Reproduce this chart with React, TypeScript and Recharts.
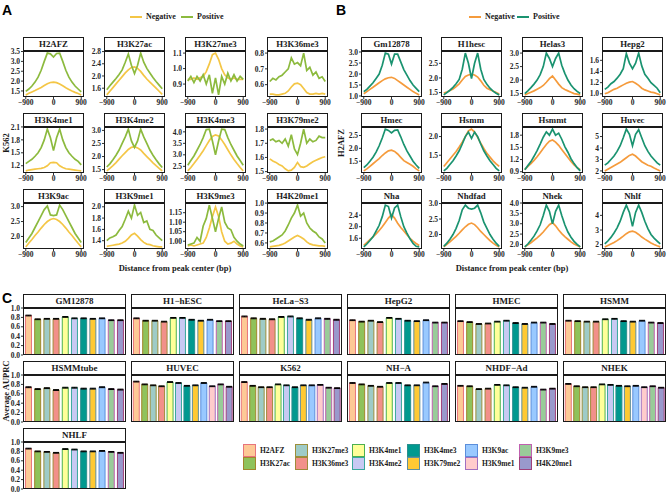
import React from 'react';
import { LineChart, Line, XAxis, YAxis, BarChart, Bar, Cell, ErrorBar } from 'recharts';

const SERIF = '"Liberation Serif", "DejaVu Serif", serif';

// ---------- Panel A / B : profiles around peak centre ----------
const distance = [-900, -800, -700, -600, -500, -400, -300, -200, -100, 0, 100, 200, 300, 400, 500, 600, 700, 800, 900];

// A: K562, one histone mark per facet
const h2afzNeg = [1.3, 1.38, 1.45, 1.52, 1.6, 1.68, 1.78, 1.87, 1.93, 1.95, 1.92, 1.85, 1.76, 1.66, 1.58, 1.5, 1.43, 1.37, 1.3];
const h2afzPos = [1.48, 1.6, 1.75, 1.95, 2.2, 2.55, 3.0, 3.42, 3.38, 3.22, 3.4, 3.42, 3.0, 2.55, 2.2, 1.95, 1.75, 1.6, 1.45];
const h3k27acNeg = [1.38, 1.5, 1.62, 1.74, 1.86, 1.98, 2.1, 2.2, 2.28, 2.3, 2.25, 2.15, 2.02, 1.9, 1.8, 1.7, 1.6, 1.5, 1.4];
const h3k27acPos = [1.55, 1.68, 1.8, 1.92, 2.05, 2.2, 2.45, 2.72, 2.35, 2.08, 2.35, 2.75, 2.45, 2.25, 2.1, 1.95, 1.82, 1.7, 1.58];
const h3k27me3Neg = [0.93, 0.93, 0.94, 0.93, 0.94, 0.95, 0.98, 1.03, 1.09, 1.1, 1.06, 1.0, 0.96, 0.94, 0.93, 0.94, 0.93, 0.93, 0.93];
const h3k27me3Pos = [0.92, 0.95, 0.91, 0.95, 0.92, 0.96, 0.9, 0.96, 0.84, 0.94, 0.83, 0.95, 0.9, 0.97, 0.92, 0.96, 0.92, 0.95, 0.93];
const h3k36me3Neg = [0.54, 0.54, 0.535, 0.535, 0.54, 0.545, 0.56, 0.585, 0.605, 0.61, 0.6, 0.575, 0.55, 0.54, 0.54, 0.545, 0.54, 0.545, 0.54];
const h3k36me3Pos = [0.62, 0.64, 0.63, 0.65, 0.66, 0.68, 0.7, 0.77, 0.73, 0.74, 0.72, 0.8, 0.69, 0.71, 0.66, 0.68, 0.64, 0.65, 0.62];
const h3k4me1Neg = [1.08, 1.1, 1.11, 1.12, 1.13, 1.14, 1.16, 1.2, 1.27, 1.28, 1.27, 1.2, 1.16, 1.13, 1.12, 1.11, 1.1, 1.09, 1.08];
const h3k4me1Pos = [1.25, 1.3, 1.35, 1.42, 1.5, 1.62, 1.8, 2.05, 1.85, 1.55, 1.85, 2.05, 1.8, 1.62, 1.5, 1.42, 1.35, 1.3, 1.22];
const h3k4me2Neg = [1.45, 1.55, 1.65, 1.77, 1.9, 2.03, 2.15, 2.27, 2.35, 2.38, 2.33, 2.25, 2.12, 2.0, 1.88, 1.76, 1.65, 1.55, 1.45];
const h3k4me2Pos = [1.6, 1.72, 1.88, 2.05, 2.25, 2.5, 2.75, 3.05, 2.6, 2.35, 2.6, 3.05, 2.75, 2.5, 2.25, 2.05, 1.88, 1.72, 1.58];
const h3k4me3Neg = [2.3, 2.45, 2.62, 2.8, 2.98, 3.18, 3.4, 3.62, 3.8, 3.87, 3.82, 3.65, 3.45, 3.22, 3.0, 2.8, 2.62, 2.45, 2.3];
const h3k4me3Pos = [2.55, 2.75, 2.95, 3.2, 3.45, 3.75, 4.1, 4.12, 3.6, 3.0, 3.6, 4.12, 4.1, 3.75, 3.45, 3.2, 2.95, 2.75, 2.55];
const h3k79me2Neg = [1.59, 1.575, 1.565, 1.55, 1.54, 1.52, 1.505, 1.51, 1.53, 1.565, 1.535, 1.53, 1.54, 1.555, 1.57, 1.58, 1.59, 1.6, 1.605];
const h3k79me2Pos = [1.72, 1.73, 1.71, 1.72, 1.7, 1.73, 1.68, 1.76, 1.66, 1.62, 1.7, 1.8, 1.7, 1.73, 1.71, 1.72, 1.75, 1.74, 1.74];
const h3k9acNeg = [1.65, 1.78, 1.9, 2.03, 2.15, 2.28, 2.4, 2.5, 2.57, 2.6, 2.57, 2.5, 2.4, 2.28, 2.15, 2.03, 1.9, 1.77, 1.65];
const h3k9acPos = [1.8, 1.95, 2.1, 2.3, 2.5, 2.7, 2.9, 3.02, 2.72, 2.7, 2.72, 3.05, 2.9, 2.7, 2.5, 2.3, 2.1, 1.95, 1.8];
const h3k9me1Neg = [1.3, 1.31, 1.32, 1.33, 1.34, 1.36, 1.39, 1.44, 1.5, 1.53, 1.48, 1.42, 1.37, 1.34, 1.33, 1.31, 1.3, 1.29, 1.29];
const h3k9me1Pos = [1.4, 1.45, 1.47, 1.5, 1.58, 1.65, 1.78, 1.92, 1.8, 2.03, 1.85, 1.9, 1.72, 1.75, 1.6, 1.58, 1.5, 1.45, 1.4];
const h3k9me3Neg = [0.975, 0.98, 0.975, 0.98, 0.985, 0.99, 1.02, 1.07, 1.13, 1.18, 1.13, 1.05, 1.0, 0.985, 0.99, 1.0, 0.985, 0.975, 0.97];
const h3k9me3Pos = [0.98, 0.985, 0.99, 1.02, 1.0, 1.08, 1.12, 1.19, 1.12, 1.05, 1.12, 1.18, 1.1, 1.07, 1.06, 1.02, 1.0, 0.985, 0.975];
const h4k20me1Neg = [0.56, 0.565, 0.57, 0.575, 0.585, 0.6, 0.62, 0.64, 0.66, 0.675, 0.66, 0.64, 0.61, 0.59, 0.58, 0.575, 0.57, 0.57, 0.565];
const h4k20me1Pos = [0.61, 0.62, 0.64, 0.66, 0.68, 0.72, 0.78, 0.85, 0.9, 0.98, 0.87, 0.9, 0.8, 0.75, 0.72, 0.7, 0.66, 0.64, 0.6];

// B: H2AFZ, one cell line per facet
const gm12878Neg = [1.1, 1.2, 1.3, 1.4, 1.5, 1.6, 1.7, 1.78, 1.83, 1.85, 1.8, 1.7, 1.6, 1.5, 1.4, 1.3, 1.2, 1.12, 1.05];
const gm12878Pos = [1.2, 1.3, 1.45, 1.6, 1.8, 2.0, 2.4, 2.95, 2.9, 2.45, 2.9, 2.9, 2.55, 2.2, 1.95, 1.7, 1.5, 1.35, 1.2];
const h1hescNeg = [1.48, 1.52, 1.57, 1.62, 1.7, 1.8, 1.93, 2.05, 2.1, 2.12, 2.1, 2.03, 1.9, 1.75, 1.65, 1.6, 1.55, 1.5, 1.45];
const h1hescPos = [1.42, 1.5, 1.58, 1.68, 1.8, 1.95, 2.3, 2.85, 2.5, 1.98, 2.5, 2.85, 2.3, 1.95, 1.78, 1.65, 1.55, 1.48, 1.42];
const helas3Neg = [1.45, 1.5, 1.55, 1.6, 1.66, 1.72, 1.8, 1.92, 2.05, 2.15, 2.0, 1.85, 1.72, 1.65, 1.6, 1.55, 1.5, 1.48, 1.45];
const helas3Pos = [1.5, 1.6, 1.72, 1.85, 2.0, 2.2, 2.5, 3.0, 2.8, 2.5, 2.8, 3.0, 2.55, 2.25, 2.0, 1.82, 1.68, 1.58, 1.5];
const hepg2Neg = [1.0, 1.02, 1.05, 1.08, 1.1, 1.13, 1.16, 1.19, 1.21, 1.22, 1.19, 1.15, 1.1, 1.07, 1.05, 1.03, 1.02, 1.0, 0.98];
const hepg2Pos = [1.08, 1.12, 1.18, 1.22, 1.28, 1.35, 1.45, 1.72, 1.55, 1.45, 1.55, 1.73, 1.5, 1.35, 1.28, 1.2, 1.15, 1.1, 1.02];
const hmecNeg = [1.12, 1.2, 1.3, 1.4, 1.5, 1.6, 1.72, 1.82, 1.9, 1.93, 1.88, 1.78, 1.65, 1.52, 1.45, 1.38, 1.3, 1.2, 1.12];
const hmecPos = [1.25, 1.35, 1.5, 1.65, 1.85, 2.1, 2.4, 2.75, 2.7, 2.6, 2.7, 2.72, 2.45, 2.15, 1.9, 1.7, 1.5, 1.35, 1.22];
const hsmmNeg = [1.2, 1.3, 1.4, 1.5, 1.6, 1.72, 1.85, 2.0, 2.15, 2.2, 2.12, 1.98, 1.82, 1.68, 1.55, 1.45, 1.35, 1.27, 1.2];
const hsmmPos = [1.08, 1.15, 1.25, 1.35, 1.48, 1.62, 1.8, 2.0, 2.12, 1.95, 2.12, 2.0, 1.8, 1.62, 1.48, 1.35, 1.25, 1.15, 1.08];
const hsmmtNeg = [0.95, 1.03, 1.1, 1.18, 1.27, 1.37, 1.47, 1.57, 1.65, 1.68, 1.63, 1.55, 1.45, 1.35, 1.25, 1.15, 1.07, 1.0, 0.95];
const hsmmtPos = [0.95, 1.05, 1.15, 1.28, 1.42, 1.58, 1.75, 1.88, 1.8, 1.95, 1.8, 1.85, 1.7, 1.52, 1.38, 1.22, 1.1, 1.0, 0.92];
const huvecNeg = [2.0, 2.15, 2.3, 2.45, 2.6, 2.75, 2.95, 3.15, 3.35, 3.45, 3.3, 3.05, 2.8, 2.65, 2.5, 2.4, 2.25, 2.12, 2.0];
const huvecPos = [2.5, 2.7, 3.0, 3.3, 3.7, 4.2, 4.9, 5.65, 5.2, 4.2, 5.2, 5.6, 4.9, 4.2, 3.7, 3.3, 3.0, 2.7, 2.5];
const nhaNeg = [1.35, 1.45, 1.55, 1.65, 1.75, 1.87, 2.0, 2.15, 2.3, 2.42, 2.3, 2.12, 1.97, 1.85, 1.72, 1.6, 1.5, 1.42, 1.35];
const nhaPos = [1.3, 1.4, 1.52, 1.65, 1.85, 2.05, 2.35, 2.75, 2.7, 2.3, 2.65, 2.75, 2.35, 2.0, 1.78, 1.58, 1.42, 1.32, 1.3];
const nhdfadNeg = [1.6, 1.68, 1.76, 1.85, 1.94, 2.04, 2.15, 2.25, 2.33, 2.37, 2.32, 2.22, 2.1, 2.0, 1.9, 1.8, 1.72, 1.65, 1.6];
const nhdfadPos = [1.62, 1.72, 1.85, 2.0, 2.2, 2.45, 2.8, 2.95, 2.85, 2.82, 2.85, 2.95, 2.7, 2.4, 2.2, 2.0, 1.85, 1.72, 1.62];
const nhekNeg = [1.88, 1.98, 2.08, 2.2, 2.32, 2.45, 2.6, 2.78, 2.95, 3.05, 2.9, 2.7, 2.52, 2.38, 2.25, 2.12, 2.02, 1.95, 1.88];
const nhekPos = [1.88, 2.02, 2.2, 2.4, 2.65, 2.95, 3.4, 3.9, 3.6, 3.0, 3.6, 3.9, 3.4, 2.95, 2.6, 2.35, 2.15, 2.0, 1.88];
const nhlfNeg = [1.85, 1.95, 2.05, 2.15, 2.28, 2.42, 2.58, 2.75, 2.88, 2.92, 2.85, 2.7, 2.52, 2.38, 2.25, 2.12, 2.02, 1.93, 1.85];
const nhlfPos = [2.05, 2.25, 2.5, 2.8, 3.15, 3.6, 4.2, 4.7, 4.2, 3.25, 4.2, 4.7, 4.2, 3.6, 3.1, 2.7, 2.45, 2.25, 2.05];

type Profile = { title: string; neg: number[]; pos: number[]; ticks: number[]; dec: number };

const panelA: Profile[] = [
  { title: 'H2AFZ', neg: h2afzNeg, pos: h2afzPos, ticks: [1.5, 2.0, 2.5, 3.0, 3.5], dec: 1 },
  { title: 'H3K27ac', neg: h3k27acNeg, pos: h3k27acPos, ticks: [1.6, 2.0, 2.4, 2.8], dec: 1 },
  { title: 'H3K27me3', neg: h3k27me3Neg, pos: h3k27me3Pos, ticks: [0.9, 1.0, 1.1], dec: 1 },
  { title: 'H3K36me3', neg: h3k36me3Neg, pos: h3k36me3Pos, ticks: [0.6, 0.7, 0.8], dec: 1 },
  { title: 'H3K4me1', neg: h3k4me1Neg, pos: h3k4me1Pos, ticks: [1.2, 1.5, 1.8, 2.1], dec: 1 },
  { title: 'H3K4me2', neg: h3k4me2Neg, pos: h3k4me2Pos, ticks: [1.5, 2.0, 2.5, 3.0], dec: 1 },
  { title: 'H3K4me3', neg: h3k4me3Neg, pos: h3k4me3Pos, ticks: [2.5, 3.0, 3.5, 4.0], dec: 1 },
  { title: 'H3K79me2', neg: h3k79me2Neg, pos: h3k79me2Pos, ticks: [1.5, 1.6, 1.7, 1.8], dec: 1 },
  { title: 'H3K9ac', neg: h3k9acNeg, pos: h3k9acPos, ticks: [2.0, 2.5, 3.0], dec: 1 },
  { title: 'H3K9me1', neg: h3k9me1Neg, pos: h3k9me1Pos, ticks: [1.4, 1.6, 1.8, 2.0], dec: 1 },
  { title: 'H3K9me3', neg: h3k9me3Neg, pos: h3k9me3Pos, ticks: [1.0, 1.05, 1.1, 1.15], dec: 2 },
  { title: 'H4K20me1', neg: h4k20me1Neg, pos: h4k20me1Pos, ticks: [0.6, 0.7, 0.8, 0.9, 1.0], dec: 1 },
];

const panelB: Profile[] = [
  { title: 'Gm12878', neg: gm12878Neg, pos: gm12878Pos, ticks: [1.0, 1.5, 2.0, 2.5, 3.0], dec: 1 },
  { title: 'H1hesc', neg: h1hescNeg, pos: h1hescPos, ticks: [1.5, 2.0, 2.5], dec: 1 },
  { title: 'Helas3', neg: helas3Neg, pos: helas3Pos, ticks: [1.5, 2.0, 2.5, 3.0], dec: 1 },
  { title: 'Hepg2', neg: hepg2Neg, pos: hepg2Pos, ticks: [1.0, 1.2, 1.4, 1.6], dec: 1 },
  { title: 'Hmec', neg: hmecNeg, pos: hmecPos, ticks: [1.5, 2.0, 2.5], dec: 1 },
  { title: 'Hsmm', neg: hsmmNeg, pos: hsmmPos, ticks: [1.5, 2.0], dec: 1 },
  { title: 'Hsmmt', neg: hsmmtNeg, pos: hsmmtPos, ticks: [0.9, 1.2, 1.5, 1.8], dec: 1 },
  { title: 'Huvec', neg: huvecNeg, pos: huvecPos, ticks: [2, 3, 4, 5], dec: 0 },
  { title: 'Nha', neg: nhaNeg, pos: nhaPos, ticks: [1.6, 2.0, 2.4], dec: 1 },
  { title: 'Nhdfad', neg: nhdfadNeg, pos: nhdfadPos, ticks: [2.0, 2.5, 3.0], dec: 1 },
  { title: 'Nhek', neg: nhekNeg, pos: nhekPos, ticks: [2.0, 2.5, 3.0, 3.5, 4.0], dec: 1 },
  { title: 'Nhlf', neg: nhlfNeg, pos: nhlfPos, ticks: [2, 3, 4], dec: 0 },
];

// ---------- Panel C : average AUPRC per cell line ----------
const marks = ['H2AFZ', 'H3K27ac', 'H3K27me3', 'H3K36me3', 'H3K4me1', 'H3K4me2', 'H3K4me3', 'H3K79me2', 'H3K9ac', 'H3K9me1', 'H3K9me3', 'H4K20me1'];
const markFill = ['#FDC996', '#8FC25B', '#9ECBC7', '#F2908A', '#FFFF99', '#C8C9F3', '#00998F', '#FFC933', '#99C9FF', '#FFCCCC', '#99CC99', '#9999CC'];
const markStroke = ['#E8747C', '#A3862B', '#9C8E3A', '#A08A3A', '#4CB050', '#3AA89C', '#2A8F8F', '#5E8FA0', '#5B8EDB', '#A070C0', '#C060B0', '#A0407A'];

const cellLines = ['GM12878', 'H1\u2212hESC', 'HeLa\u2212S3', 'HepG2', 'HMEC', 'HSMM', 'HSMMtube', 'HUVEC', 'K562', 'NH\u2212A', 'NHDF\u2212Ad', 'NHEK', 'NHLF'];
const auprc: (number | null)[][] = [
  [0.84, 0.76, 0.77, 0.77, 0.81, 0.78, 0.78, 0.77, 0.78, null, 0.74, 0.74],
  [0.78, 0.73, 0.73, 0.71, 0.79, 0.79, 0.75, 0.73, 0.75, null, 0.72, 0.72],
  [0.82, 0.78, 0.77, 0.76, 0.81, 0.82, 0.78, 0.75, 0.78, null, 0.77, 0.75],
  [0.74, 0.71, 0.73, 0.7, 0.79, 0.77, 0.73, 0.72, 0.74, null, 0.69, 0.69],
  [0.72, 0.7, 0.66, 0.67, 0.71, 0.73, 0.68, 0.66, 0.69, null, 0.69, 0.66],
  [0.73, 0.72, 0.71, 0.71, 0.76, 0.77, 0.72, 0.71, 0.73, null, 0.69, 0.68],
  [0.74, 0.7, 0.72, 0.68, 0.73, 0.73, 0.71, 0.71, 0.74, null, 0.7, 0.69],
  [0.86, 0.8, 0.78, 0.76, 0.85, 0.83, 0.77, 0.78, 0.83, 0.76, 0.8, 0.75],
  [0.85, 0.77, 0.74, 0.74, 0.8, 0.78, 0.74, 0.78, 0.78, 0.79, 0.73, 0.72],
  [0.83, 0.8, 0.77, 0.75, 0.83, 0.83, 0.78, 0.78, 0.84, null, 0.76, 0.81],
  [0.77, 0.76, 0.7, 0.71, 0.79, 0.78, 0.74, 0.73, 0.75, null, 0.69, 0.71],
  [0.81, 0.76, 0.74, 0.74, 0.8, 0.79, 0.77, 0.76, 0.77, 0.74, 0.76, 0.73],
  [0.86, 0.8, 0.79, 0.77, 0.85, 0.84, 0.8, 0.8, 0.81, null, 0.79, 0.77],
];
const auprcErr = [0.008, 0.008, 0.009, 0.008, 0.008, 0.008, 0.009, 0.008, 0.008, 0.008, 0.008, 0.008, 0.008];
const auprcTicks = [0, 0.2, 0.4, 0.6, 0.8, 1.0];

// ---------- layout ----------
const STRIP_H = 14;
const LP_W = 61;
const LP_H = 46;
const LY_W = 24;
const TOP_M = 5;
const BOT_M = 5;
const X_H = 13;
const colsA = [23, 104, 185, 267];
const colsB = [361, 441, 522, 602];
const rowsAB = [37, 113, 189];

const BP_W = 103;
const BP_H = 47;
const BY_W = 20;
const colsC = [23, 131, 239, 347, 455, 563];
const rowsC = [294, 361, 428];

const tickStyle = { fontSize: 7.5, fontWeight: 700, fill: '#262626', fontFamily: SERIF };
const fmtX = (v: number) => (v < 0 ? '\u2212' + Math.abs(v) : String(v));

const stripStyle = (x: number, y: number, w: number, fs: number): React.CSSProperties => ({
  position: 'absolute', left: x, top: y, width: w, height: STRIP_H, boxSizing: 'border-box',
  border: '1px solid #1a1a1a', background: '#fff', textAlign: 'center', lineHeight: `${STRIP_H - 2}px`,
  fontFamily: SERIF, fontWeight: 700, fontSize: fs, color: '#1a1a1a', whiteSpace: 'nowrap', overflow: 'hidden',
});
const boxStyle = (x: number, y: number, w: number, h: number): React.CSSProperties => ({
  position: 'absolute', left: x, top: y, width: w, height: h, boxSizing: 'border-box',
  border: '1px solid #1a1a1a', pointerEvents: 'none',
});

function LineFacet({ x, y, p, negColor, posColor }: { x: number; y: number; p: Profile; negColor: string; posColor: string }) {
  const data = distance.map((d, i) => ({ d, neg: p.neg[i], pos: p.pos[i] }));
  const all = p.neg.concat(p.pos);
  const lo = Math.min(...all);
  const hi = Math.max(...all);
  const pad = (hi - lo) * 0.05;
  const RM = 9;
  return (
    <>
      <div style={stripStyle(x, y, LP_W, 8.8)}>{p.title}</div>
      <div style={{ position: 'absolute', left: x - LY_W, top: y + STRIP_H - TOP_M }}>
        <LineChart width={LY_W + LP_W + RM} height={TOP_M + LP_H + X_H} data={data} margin={{ top: TOP_M, right: RM, bottom: 0, left: 0 }}>
          <XAxis dataKey="d" type="number" domain={[-990, 990]} ticks={[-900, 0, 900]} interval={0} tickFormatter={fmtX}
            height={X_H} tickSize={2} tickMargin={1} axisLine={false} tickLine={{ stroke: '#333' }} tick={tickStyle} allowDataOverflow />
          <YAxis type="number" domain={[lo - pad, hi + pad]} ticks={p.ticks} interval={0} tickFormatter={(v: number) => v.toFixed(p.dec)}
            width={LY_W} tickSize={2} tickMargin={1} axisLine={false} tickLine={{ stroke: '#333' }} tick={tickStyle} allowDataOverflow />
          <Line type="linear" dataKey="neg" stroke={negColor} strokeWidth={1.7} dot={false} isAnimationActive={false} />
          <Line type="linear" dataKey="pos" stroke={posColor} strokeWidth={1.7} dot={false} isAnimationActive={false} />
        </LineChart>
      </div>
      <div style={boxStyle(x, y + STRIP_H, LP_W, LP_H)} />
    </>
  );
}

function BarFacet({ x, y, idx, showY }: { x: number; y: number; idx: number; showY: boolean }) {
  const data = marks
    .map((m, i) => ({ mark: m, i, v: auprc[idx][i], err: auprcErr[idx] }))
    .filter((d) => d.v !== null);
  const n = data.length;
  const padX = (BP_W * 0.1) / (n + 0.2);
  return (
    <>
      <div style={stripStyle(x, y, BP_W, 9)}>{cellLines[idx]}</div>
      <div style={{ position: 'absolute', left: x - BY_W, top: y + STRIP_H - TOP_M }}>
        <BarChart width={BY_W + BP_W} height={TOP_M + BP_H + BOT_M} data={data} margin={{ top: TOP_M, right: 0, bottom: BOT_M, left: 0 }} barCategoryGap="17%">
          <XAxis dataKey="mark" hide padding={{ left: padX, right: padX }} />
          <YAxis type="number" domain={[0, 1]} ticks={auprcTicks} interval={0} tickFormatter={(v: number) => v.toFixed(1)}
            width={BY_W} tickSize={2} tickMargin={1} axisLine={false}
            tickLine={showY ? { stroke: '#333' } : false} tick={showY ? tickStyle : false} allowDataOverflow />
          <Bar dataKey="v" isAnimationActive={false} strokeWidth={1}>
            {data.map((d) => (
              <Cell key={d.mark} fill={markFill[d.i]} stroke={markStroke[d.i]} />
            ))}
            <ErrorBar dataKey="err" width={3} stroke="#000" strokeWidth={1} direction="y" />
          </Bar>
        </BarChart>
      </div>
      <div style={boxStyle(x, y + STRIP_H, BP_W, BP_H)} />
    </>
  );
}

const text = (x: number, y: number, fs: number, extra: React.CSSProperties = {}): React.CSSProperties => ({
  position: 'absolute', left: x, top: y, fontFamily: SERIF, fontWeight: 700, fontSize: fs, color: '#1a1a1a',
  whiteSpace: 'nowrap', lineHeight: 1, ...extra,
});

function LineKey({ x, y, color, label }: { x: number; y: number; color: string; label: string }) {
  return (
    <>
      <div style={{ position: 'absolute', left: x, top: y - 1, width: 12, height: 2, background: color }} />
      <div style={text(x + 16, y - 4, 8)}>{label}</div>
    </>
  );
}

const keyCols = [243, 295, 352, 407, 465, 519];
const keyRows = [444, 457];

export default function App() {
  const A_NEG = '#F4C646';
  const A_POS = '#8CBA3E';
  const B_NEG = '#F59B3C';
  const B_POS = '#1A9370';
  const tag: React.CSSProperties = { position: 'absolute', fontFamily: '"Liberation Sans", Arial, sans-serif', fontWeight: 700, fontSize: 14, lineHeight: 1 };
  return (
    <div style={{ position: 'absolute', left: 0, top: 0, width: 668, height: 494, background: '#fff', overflow: 'hidden' }}>
      <div style={{ ...tag, left: 2, top: 3 }}>A</div>
      <div style={{ ...tag, left: 336, top: 3 }}>B</div>
      <div style={{ ...tag, left: 2, top: 291 }}>C</div>

      <LineKey x={130} y={17} color={A_NEG} label="Negative" />
      <LineKey x={181} y={17} color={A_POS} label="Positive" />
      <LineKey x={469} y={17} color={B_NEG} label="Negative" />
      <LineKey x={517} y={17} color={B_POS} label="Positive" />

      {panelA.map((p, i) => (
        <LineFacet key={p.title} x={colsA[i % 4]} y={rowsAB[Math.floor(i / 4)]} p={p} negColor={A_NEG} posColor={A_POS} />
      ))}
      {panelB.map((p, i) => (
        <LineFacet key={p.title} x={colsB[i % 4]} y={rowsAB[Math.floor(i / 4)]} p={p} negColor={B_NEG} posColor={B_POS} />
      ))}

      <div style={text(175, 264, 8.5, { transform: 'translateX(-50%)' })}>Distance from peak center (bp)</div>
      <div style={text(512, 264, 8.5, { transform: 'translateX(-50%)' })}>Distance from peak center (bp)</div>
      <div style={text(6, 143, 8.5, { transform: 'translate(-50%, -50%) rotate(-90deg)' })}>K562</div>
      <div style={text(341, 143, 8.5, { transform: 'translate(-50%, -50%) rotate(-90deg)' })}>H2AFZ</div>

      {cellLines.map((c, i) => (
        <BarFacet key={c} x={colsC[i % 6]} y={rowsC[Math.floor(i / 6)]} idx={i} showY={i % 6 === 0} />
      ))}
      <div style={text(6, 391, 8.5, { transform: 'translate(-50%, -50%) rotate(-90deg)' })}>Average AUPRC</div>

      {marks.map((m, i) => {
        const cx = keyCols[Math.floor(i / 2)];
        const cy = keyRows[i % 2];
        return (
          <React.Fragment key={m}>
            <div style={{ position: 'absolute', left: cx, top: cy, width: 13, height: 13, boxSizing: 'border-box', background: markFill[i], border: `1.5px solid ${markStroke[i]}` }} />
            <div style={text(cx + 17, cy + 3, 7.5)}>{m}</div>
          </React.Fragment>
        );
      })}
    </div>
  );
}
